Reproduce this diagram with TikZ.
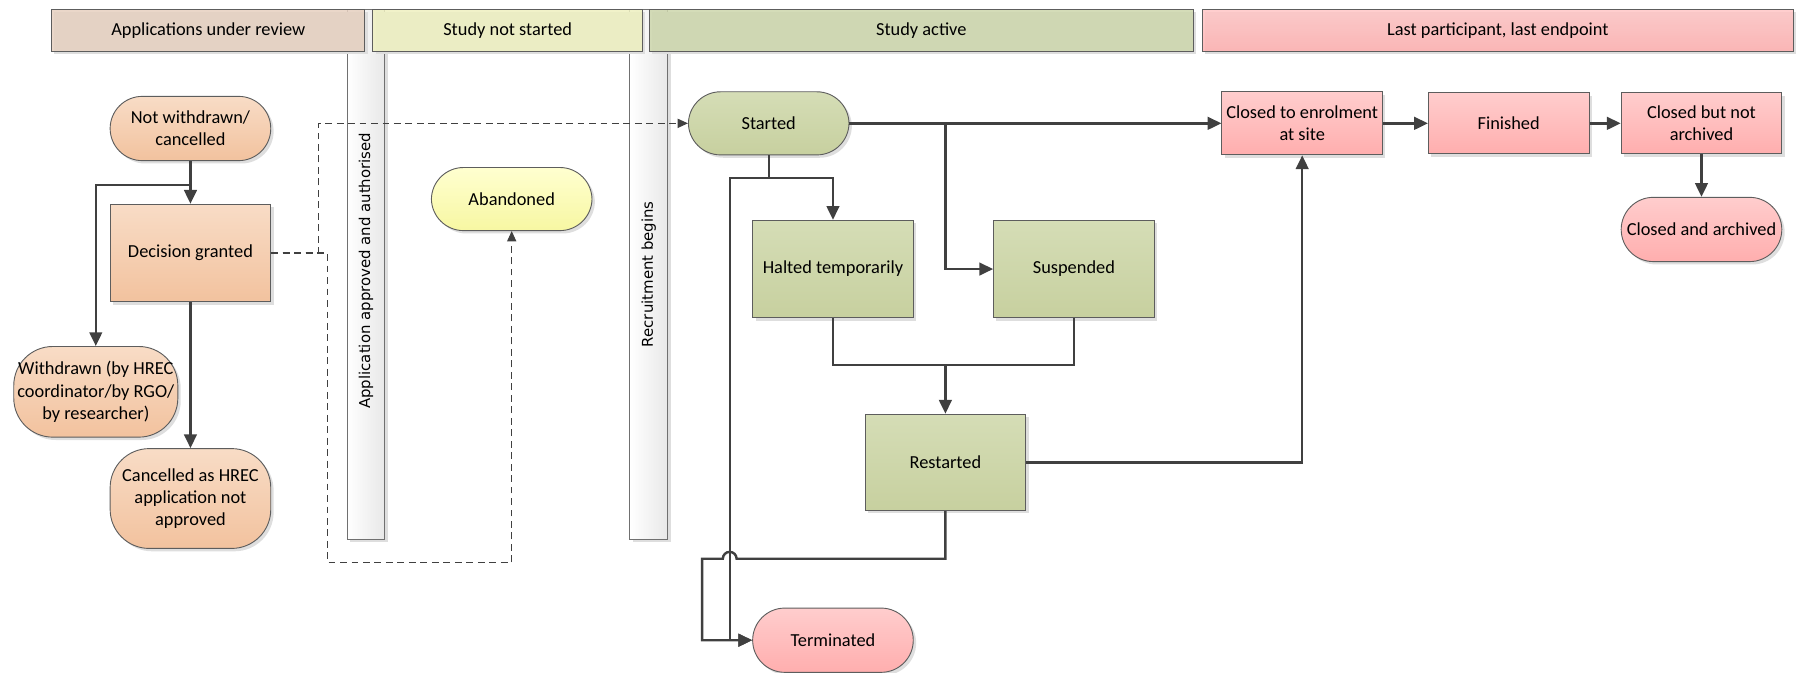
\documentclass[tikz,border=0pt]{standalone}
\usepackage{fontspec}
\setmainfont{Carlito}
\newfontfamily\vfont{DejaVu Sans}
\usetikzlibrary{arrows.meta,shadows}
\definecolor{ln}{HTML}{404040}
\definecolor{orT}{HTML}{F8DCC6}
\definecolor{orB}{HTML}{F2C29E}
\definecolor{grT}{HTML}{D5DDB6}
\definecolor{grB}{HTML}{C7D09F}
\definecolor{pkT}{HTML}{FFCDCD}
\definecolor{pkB}{HTML}{FFAEAE}
\definecolor{ylT}{HTML}{FFFFD0}
\definecolor{ylB}{HTML}{F7F7A2}
\definecolor{hA}{HTML}{E6D0C0}
\definecolor{hB}{HTML}{EEF0C0}
\definecolor{hC}{HTML}{CDD6AC}
\definecolor{hDT}{HTML}{FFC6C6}
\definecolor{hDB}{HTML}{FFAFAF}
\begin{document}
\begin{tikzpicture}[x=1pt,y=-1pt,
  conn/.style={draw=ln, line width=2.1pt},
  arr/.style={-{Triangle[length=12pt,width=11pt]}},
  darr/.style={-{Triangle[length=9pt,width=8pt]}},
  dsh/.style={draw=ln, line width=0.9pt, dash pattern=on 6pt off 4pt},
  shad/.style={drop shadow={shadow xshift=2.5pt,shadow yshift=-2.5pt,fill=black!13,opacity=1}},
  nd/.style={draw=ln!85, line width=0.8pt, minimum width=140pt, align=center,
    font=\fontsize{16}{19.5}\selectfont, inner sep=1pt, shad},
  rbox/.style={nd},
  stad/.style={nd, rounded corners=#1},
  orange/.style={top color=orT, bottom color=orB},
  green/.style={top color=grT, bottom color=grB},
  pink/.style={top color=pkT, bottom color=pkB},
  yellow/.style={top color=ylT, bottom color=ylB},
  hdr/.style={draw=ln!85, line width=0.8pt, minimum height=37pt, fill opacity=0.85,
    text opacity=1, font=\fontsize{16}{19.5}\selectfont, shad},
  bar/.style={draw=ln!75, line width=0.8pt, minimum width=33pt, minimum height=462pt,
    left color=white, right color=black!9, shad},
  vlbl/.style={rotate=90, font=\vfont\fontsize{13}{15}\selectfont, inner sep=0pt}
]
\useasboundingbox (0,0) rectangle (1568,586);
% milestone bars
\node[bar] (b1) at (319,239) {};
\node[bar] (b2) at (565.5,239) {};
\node[vlbl] (b1l) at (319,236) {Application approved and authorised};
\node[vlbl] (b2l) at (565.5,239) {Recruitment begins};
% phase headers
\node[hdr, fill=hA, minimum width=273pt] (hA) at (181.5,26.5) {Applications under review};
\node[hdr, fill=hB, minimum width=235pt] (hB) at (442.5,26.5) {Study not started};
\node[hdr, fill=hC, minimum width=474pt] (hC) at (803,26.5) {Study active};
\node[hdr, top color=hDT, bottom color=hDB, minimum width=515pt] (hD) at (1305.5,26.5) {Last participant, last endpoint};
% states
\node[stad=28pt, orange, minimum height=56pt] (nw) at (166,112) {Not withdrawn/\\cancelled};
\node[rbox, orange, minimum height=85pt] (dg) at (166,220.5) {Decision granted};
\node[stad=34pt, orange, minimum width=143pt, minimum height=79pt] (wd) at (83.5,341.5) {Withdrawn (by HREC\\coordinator/by RGO/\\by researcher)};
\node[stad=34pt, orange, minimum height=87pt] (cx) at (166,434.5) {Cancelled as HREC\\application not\\approved};
\node[stad=28pt, yellow, minimum height=55pt] (ab) at (446,173.5) {Abandoned};
\node[stad=28pt, green, minimum height=55pt] (st) at (670,107.5) {Started};
\node[rbox, green, minimum height=85pt] (ht) at (726,234.5) {Halted temporarily};
\node[rbox, green, minimum height=85pt] (su) at (936,234.5) {Suspended};
\node[rbox, green, minimum height=84pt] (rs) at (824,403) {Restarted};
\node[stad=28pt, pink, minimum height=56pt] (tm) at (726,558) {Terminated};
\node[rbox, pink, minimum height=55pt] (ce) at (1135,107.5) {Closed to enrolment\\at site};
\node[rbox, pink, minimum height=53pt] (fi) at (1315,107.5) {Finished};
\node[rbox, pink, minimum height=53pt] (cn) at (1483,107.5) {Closed but not\\archived};
\node[stad=28pt, pink, minimum height=56pt] (ca) at (1483,200) {Closed and archived};
% junctions
\coordinate (j1) at (166,161);
\coordinate (j2) at (824,107.5);
\coordinate (j3) at (670,155);
\coordinate (j4) at (824,318);
% connectors
\draw[conn,arr] (nw.south) -- (dg.north);
\draw[conn,arr] (j1) -| (wd.north);
\draw[conn,arr] (dg.south) -- (cx.north);
\draw[dsh,darr] (dg.east) -- ++(41,0) |- (st.west);
\draw[dsh,darr] (dg.east) -- ++(49,0) -- ++(0,270) -| (ab.south);
\draw[conn,arr] (st.east) -- (ce.west);
\draw[conn,arr] (j2) |- (su.west);
\draw[conn] (st.south) -- (j3);
\draw[conn,arr] (j3) -| (ht.north);
\draw[conn,arr] (j3) -| (636,558) -- (tm.west);
\draw[conn] (ht.south) |- (j4);
\draw[conn] (su.south) |- (j4);
\draw[conn,arr] (j4) -- (rs.north);
\draw[conn,arr] (rs.east) -| (ce.south);
\draw[conn,arr] (rs.south) |- (642,487) arc[start angle=0,end angle=-180,radius=6] -- (612,487) |- (tm.west);
\draw[conn,arr] (ce.east) -- (fi.west);
\draw[conn,arr] (fi.east) -- (cn.west);
\draw[conn,arr] (cn.south) -- (ca.north);
\end{tikzpicture}
\end{document}
